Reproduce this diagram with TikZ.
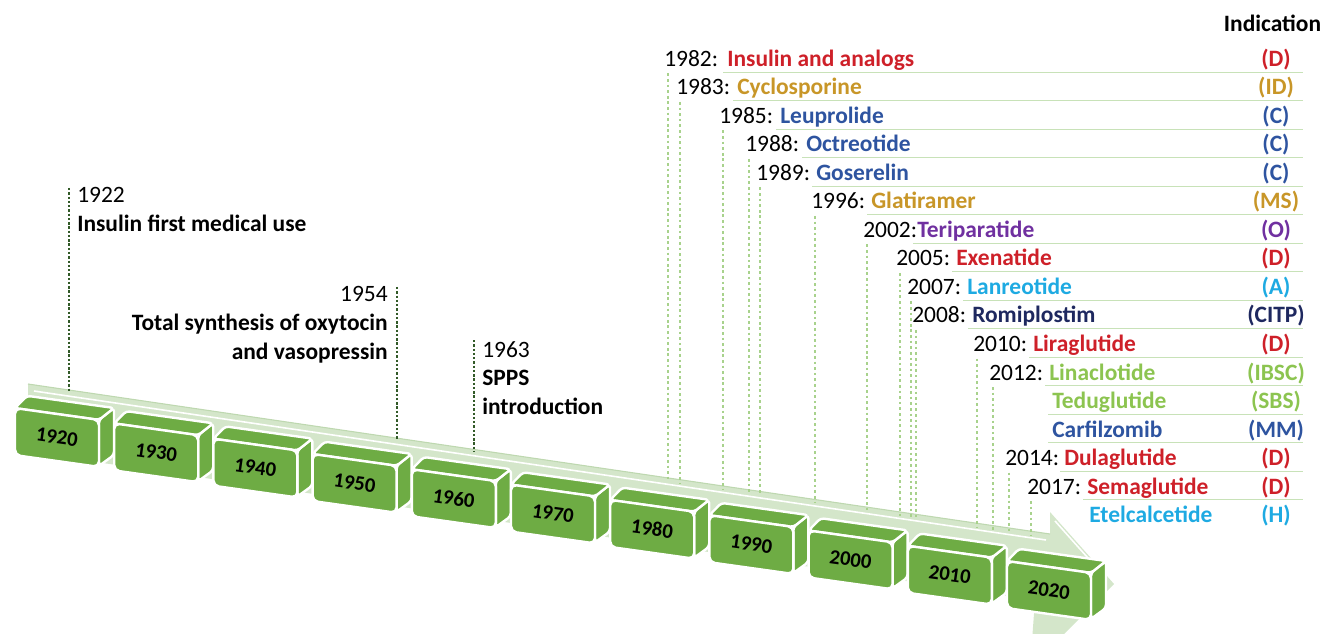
\documentclass[tikz,border=0pt]{standalone}
\usepackage{fontspec}
\setmainfont{Carlito}
\usetikzlibrary{calc}
\definecolor{cred}{RGB}{206,32,41}
\definecolor{cgold}{RGB}{200,150,40}
\definecolor{cblue}{RGB}{46,84,160}
\definecolor{cpurple}{RGB}{112,48,160}
\definecolor{clblue}{RGB}{30,170,226}
\definecolor{cnavy}{RGB}{30,40,95}
\definecolor{clgreen}{RGB}{140,196,80}
\definecolor{blockgreen}{RGB}{110,172,68}
\definecolor{bandgreen}{RGB}{212,230,202}
\definecolor{bandedge}{RGB}{190,216,176}
\definecolor{linegreen}{RGB}{200,226,184}
\definecolor{dotgreen}{RGB}{168,210,140}
\definecolor{darkdot}{RGB}{50,90,40}
\begin{document}
\begin{tikzpicture}[x=0.75pt,y=-0.75pt,
  lbl/.style={font=\fontsize{17.6}{21}\selectfont, inner sep=0pt, anchor=base west},
  lblb/.style={font=\fontsize{17.6}{21}\selectfont\bfseries, inner sep=0pt, anchor=base west},
  indic/.style={font=\fontsize{17.6}{21}\selectfont\bfseries, inner sep=0pt, anchor=base},
  blklab/.style={font=\fontsize{15.5}{18}\selectfont\bfseries, rotate=-8, inner sep=0pt},
  face/.style={fill=blockgreen, draw=white, line width=1.8pt, line join=round},
  uline/.style={draw=linegreen, line width=1pt},
  rdot/.style={draw=dotgreen, line width=2pt, dash pattern=on 2pt off 2.2pt},
  ldot/.style={draw=darkdot, line width=2pt, dash pattern=on 1.8pt off 1.4pt}]
\useasboundingbox (0,0) rectangle (1323,634);

% timeline band (flat arrow)
\fill[bandgreen] (28,384) -- (1050,534) -- (1050,512) -- (1114,584) -- (1030,668) -- (1035,600) -- (28,452) -- cycle;
\draw[bandedge, line width=0.8pt] (28,384) -- (1050,534);
\draw[white, line width=1.2pt] (34,391) -- (1046,540);
\draw[white, line width=1.2pt] (1055,521) -- (1096,567);

% left events
\node[lbl] (t1922) at (77,203) {1922};
\node[lblb] (e1922) at (77,231.5) {Insulin first medical use};
\node[lbl, anchor=base east] (t1954) at (388,302) {1954};
\node[lblb, anchor=base east] (e1954a) at (388,330.5) {Total synthesis of oxytocin};
\node[lblb, anchor=base east] (e1954b) at (388,359) {and vasopressin};
\node[lbl] (t1963) at (482,357) {1963};
\node[lblb] (e1963a) at (482,385.5) {SPPS};
\node[lblb] (e1963b) at (482,414) {introduction};
\coordinate (l1a) at (69,188); \coordinate (l1b) at (69,392);
\coordinate (l2a) at (397,287); \coordinate (l2b) at (397,440);
\coordinate (l3a) at (474,340); \coordinate (l3b) at (474,451);
\draw[ldot] (l1a) -- (l1b);
\draw[ldot] (l2a) -- (l2b);
\draw[ldot] (l3a) -- (l3b);

% header
\node[indic] (hdr) at (1272.5,31.5) {Indication};

% approvals with year
\foreach \i/\yx/\nx/\yr/\nm/\cl/\ind in {
0/664/727/1982:/Insulin and analogs/cred/(D),
1/676/737/1983:/Cyclosporine/cgold/(ID),
2/719/780/1985:/Leuprolide/cblue/(C),
3/745/806/1988:/Octreotide/cblue/(C),
4/756/816/1989:/Goserelin/cblue/(C),
5/811/871/1996:/Glatiramer/cgold/(MS),
6/863/917/2002:/Teriparatide/cpurple/(O),
7/896/956/2005:/Exenatide/cred/(D),
8/907/967/2007:/Lanreotide/clblue/(A),
9/912/972/2008:/Romiplostim/cnavy/(CITP),
10/973/1033/2010:/Liraglutide/cred/(D),
11/989/1049/2012:/Linaclotide/clgreen/(IBSC),
14/1005/1064/2014:/Dulaglutide/cred/(D),
15/1027/1087/2017:/Semaglutide/cred/(D)}{
  \pgfmathsetmacro\by{66.5+28.5*\i}
  \pgfmathsetmacro\dx{\yx+4}
  \pgfmathsetmacro\dy{388+0.147*(\dx-30)}
  \node[lbl] (yr\i) at (\yx,\by) {\yr};
  \node[lblb, text=\cl] (nm\i) at (\nx,\by) {\nm};
  \node[indic, text=\cl] (ind\i) at (1276,\by) {\ind};
  \coordinate (ue\i) at (1303,\by+5.8);
  \draw[uline] (nm\i.base west) ++(-4,5.8) -- (ue\i);
  \coordinate (db\i) at (\dx,\dy);
  \draw[rdot] (yr\i.base west) ++(4,7) -- (db\i);
}
% approvals sharing a year
\foreach \i/\nx/\nm/\cl/\ind/\ul in {
12/1052/Teduglutide/clgreen/(SBS)/1,
13/1052/Carfilzomib/cblue/(MM)/1,
16/1089/Etelcalcetide/clblue/(H)/0}{
  \pgfmathsetmacro\by{66.5+28.5*\i}
  \node[lblb, text=\cl] (nm\i) at (\nx,\by) {\nm};
  \node[indic, text=\cl] (ind\i) at (1276,\by) {\ind};
  \ifnum\ul=1
    \coordinate (ue\i) at (1303,\by+5.8);
    \draw[uline] (nm\i.base west) ++(-4,5.8) -- (ue\i);
  \fi
}

% decade blocks
\foreach \k/\lab in {0/1920,1/1930,2/1940,3/1950,4/1960,5/1970,6/1980,7/1990,8/2000,9/2010,10/2020}{
  \pgfmathsetmacro\cx{57+99.2*\k}
  \pgfmathsetmacro\cy{437+15.3*\k}
  \begin{scope}[shift={(\cx,\cy)}, yslant=-0.14]
    \draw[face, rounded corners=2.5pt] (42,-23) -- (57,-37) -- (57,10) -- (42,23) -- cycle;
    \draw[face, rounded corners=2.5pt] (-42,-23) -- (-30,-37) -- (57,-37) -- (42,-23) -- cycle;
    \draw[face, rounded corners=4pt] (-42,-23) rectangle (42,24);
  \end{scope}
  \node[blklab] (b\k) at (\cx,\cy) {\lab};
}
\end{tikzpicture}
\end{document}
